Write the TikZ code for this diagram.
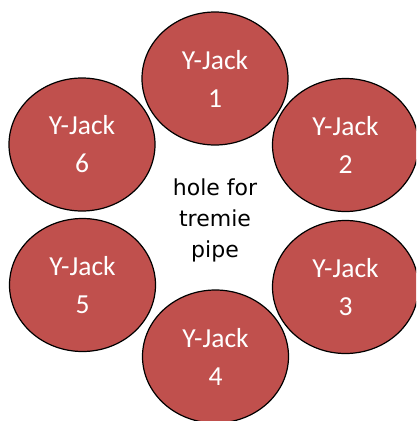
\documentclass[tikz,border=0pt]{standalone}
\usepackage{fontspec}
\usetikzlibrary{shapes.geometric}
\newfontfamily\jackfont{Carlito}
\newfontfamily\holefont{DejaVu Sans}
\definecolor{jackred}{HTML}{C0504D}
\begin{document}
\begin{tikzpicture}[x=1pt,y=-1pt]
            \tikzstyle{jack}=[ellipse,draw=black,line width=1.2pt,fill=jackred,text=white,
                minimum width=146pt,minimum height=133pt,inner sep=0pt,align=center,
                font=\jackfont\fontsize{27.5}{38}\selectfont]
            \tikzset{hole/.style = {align=center,font=\holefont\fontsize{22}{31}\selectfont}}
            \useasboundingbox (0,0) rectangle (416,421);
            \clip (0,0) rectangle (416,421);
            \node[jack] (1) at (215,78.5)  {Y-Jack\\1};
            \node[jack] (2) at (345.5,145) {Y-Jack\\2};
            \node[jack] (3) at (345.5,287) {Y-Jack\\3};
            \node[jack] (4) at (215.5,356.5) {Y-Jack\\4};
            \node[jack] (5) at (82.5,285) {Y-Jack\\5};
            \node[jack] (6) at (82,144.5) {Y-Jack\\6};
            \node[hole] (h) at (215,220) {hole for\\tremie\\pipe};
        \end{tikzpicture}
\end{document}
